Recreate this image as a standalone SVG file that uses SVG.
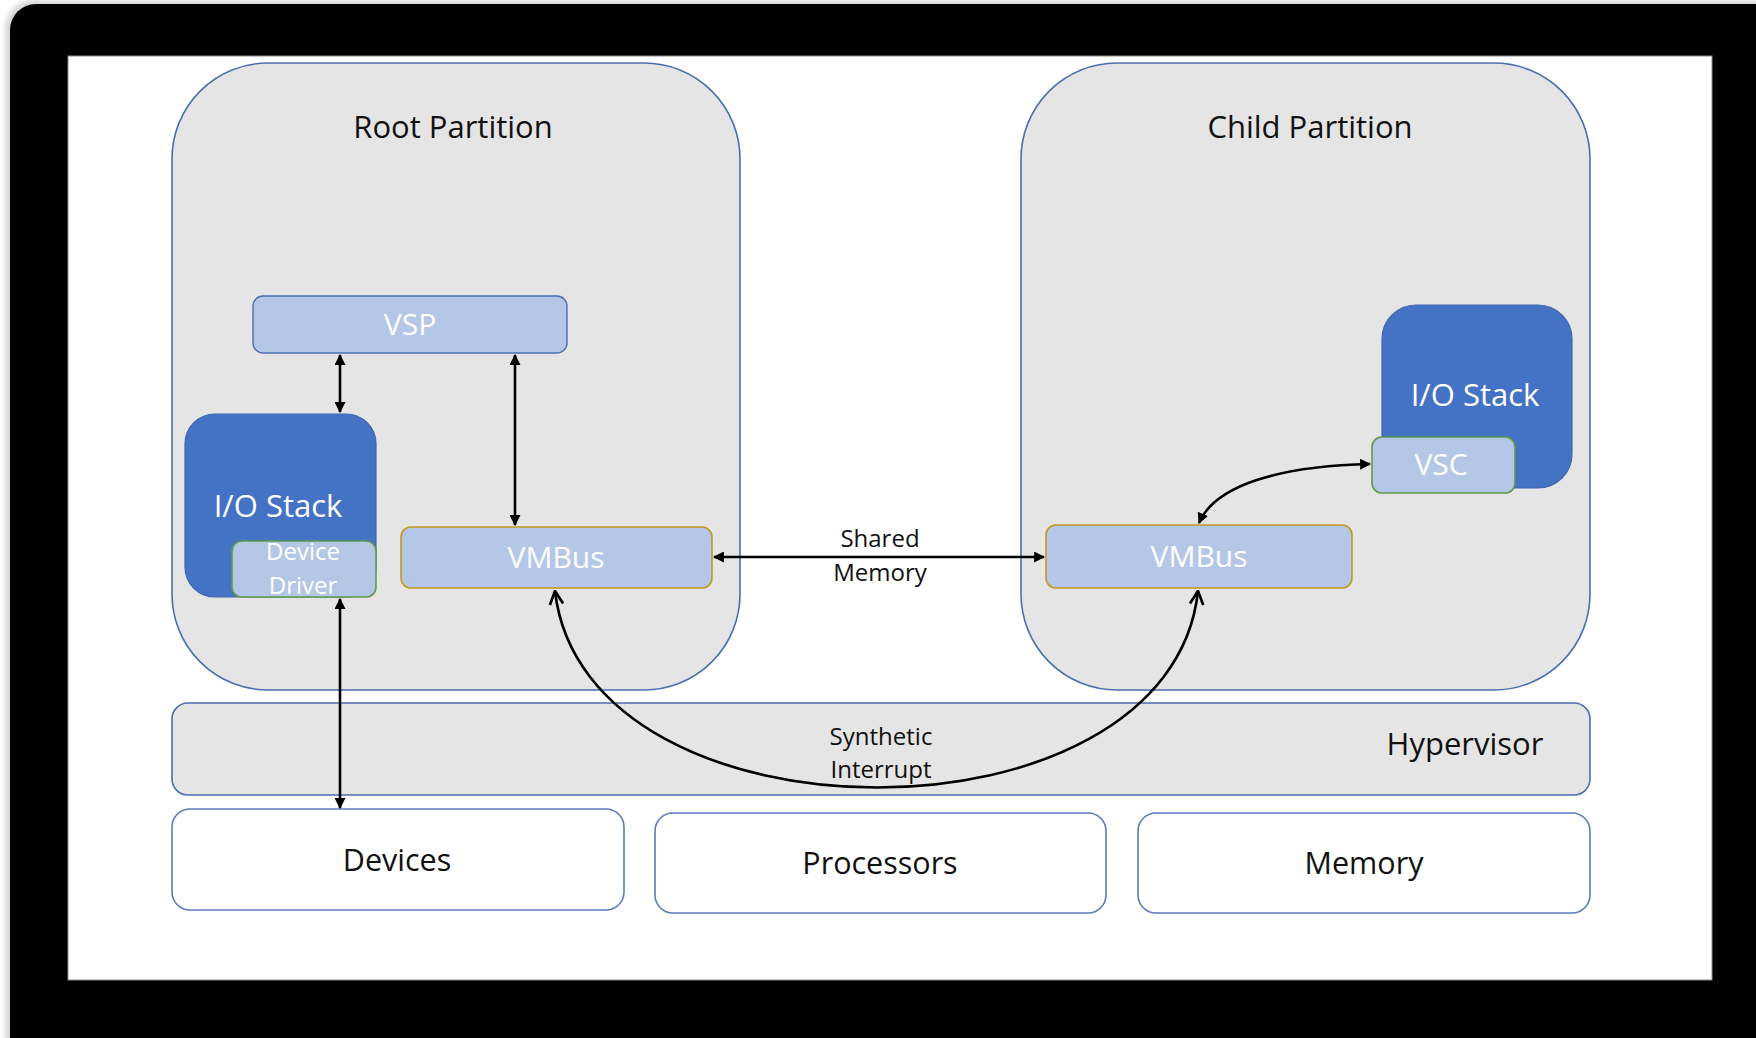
<svg xmlns="http://www.w3.org/2000/svg" width="1756" height="1038" viewBox="0 0 1756 1038">
  <style>
    .part { fill: #e5e5e5; stroke: #4a6fb0; stroke-width: 1.6; }
    .hw { fill: #ffffff; stroke: #5b7cb8; stroke-width: 1.6; }
    .light { fill: #b4c7e7; }
    .blue { fill: #4472c4; stroke: #3f68b0; stroke-width: 1.2; }
    .edge-blue { stroke: #4a6fb0; stroke-width: 1.4; }
    .edge-gold { stroke: #c39a1e; stroke-width: 1.6; }
    .edge-green { stroke: #5f9a4a; stroke-width: 1.6; }
    .t { font-family: "Open Sans", "Liberation Sans", sans-serif; text-anchor: middle; }
    .dark { fill: #111111; }
    .white { fill: #ffffff; }
    .conn { fill: none; stroke: #000000; stroke-width: 2.6; }
  </style>
  <defs>
    <marker id="solid" viewBox="0 0 10 10" refX="9" refY="5" markerWidth="11" markerHeight="11" markerUnits="userSpaceOnUse" orient="auto-start-reverse">
      <path d="M0,0 L10,5 L0,10 Z" fill="#000"/>
    </marker>
    <marker id="open" viewBox="0 0 12 12" refX="11" refY="6" markerWidth="16" markerHeight="16" markerUnits="userSpaceOnUse" orient="auto-start-reverse">
      <path d="M1,1 L11,6 L1,11" fill="none" stroke="#000" stroke-width="2"/>
    </marker>
    <filter id="soft" x="-5%" y="-5%" width="110%" height="110%">
      <feGaussianBlur stdDeviation="2.5"/>
    </filter>
  </defs>

  <!-- frame -->
  <rect x="0" y="0" width="1756" height="1038" fill="#ffffff"/>
  <rect x="5" y="0" width="1800" height="1100" rx="28" fill="#d8d8d8" filter="url(#soft)"/>
  <rect x="10" y="4" width="1800" height="1100" rx="26" fill="#000000"/>
  <rect x="68" y="56" width="1644" height="924" fill="#ffffff" stroke="#8a8a8a" stroke-width="1"/>

  <!-- partitions -->
  <g id="root-partition">
    <rect class="part" x="172" y="63" width="568" height="627" rx="96"/>
    <text class="t dark" x="453" y="138" font-size="31">Root Partition</text>
  </g>
  <g id="child-partition">
    <rect class="part" x="1021" y="63" width="569" height="627" rx="96"/>
    <text class="t dark" x="1310" y="138" font-size="31">Child Partition</text>
  </g>

  <g id="hypervisor">
    <rect class="part" x="172" y="703" width="1418" height="92" rx="16"/>
    <text class="t dark" x="1465" y="755" font-size="31">Hypervisor</text>
  </g>

  <!-- hardware -->
  <g id="devices">
    <rect class="hw" x="172" y="809" width="452" height="101" rx="18"/>
    <text class="t dark" x="397" y="871" font-size="30.5">Devices</text>
  </g>
  <g id="processors">
    <rect class="hw" x="655" y="813" width="451" height="100" rx="18"/>
    <text class="t dark" x="880" y="874" font-size="30.5">Processors</text>
  </g>
  <g id="memory">
    <rect class="hw" x="1138" y="813" width="452" height="100" rx="18"/>
    <text class="t dark" x="1364" y="874" font-size="30.5">Memory</text>
  </g>

  <!-- root partition contents -->
  <g id="vsp">
    <rect class="light edge-blue" x="253" y="296" width="314" height="57" rx="10"/>
    <text class="t white" x="410" y="335" font-size="30">VSP</text>
  </g>
  <g id="root-io-stack">
    <rect class="blue" x="185" y="414" width="191" height="183" rx="30"/>
    <text class="t white" x="278" y="517" font-size="31">I/O Stack</text>
  </g>
  <g id="device-driver">
    <rect class="light edge-green" x="232" y="541" width="144" height="56" rx="10"/>
    <text class="t white" x="303" y="560" font-size="24">Device</text>
    <text class="t white" x="303" y="594" font-size="24">Driver</text>
  </g>
  <g id="root-vmbus">
    <rect class="light edge-gold" x="401" y="527" width="311" height="61" rx="10"/>
    <text class="t white" x="556" y="568" font-size="30">VMBus</text>
  </g>

  <!-- child partition contents -->
  <g id="child-io-stack">
    <rect class="blue" x="1382" y="305" width="190" height="183" rx="34"/>
    <text class="t white" x="1475" y="406" font-size="31">I/O Stack</text>
  </g>
  <g id="vsc">
    <rect class="light edge-green" x="1372" y="437" width="143" height="56" rx="10"/>
    <text class="t white" x="1441" y="475" font-size="30">VSC</text>
  </g>
  <g id="child-vmbus">
    <rect class="light edge-gold" x="1046" y="525" width="306" height="63" rx="10"/>
    <text class="t white" x="1199" y="567" font-size="30">VMBus</text>
  </g>

  <!-- connectors -->
  <g id="connectors">
    <line class="conn" x1="340" y1="355" x2="340" y2="412" marker-start="url(#solid)" marker-end="url(#solid)"/>
    <line class="conn" x1="515" y1="355" x2="515" y2="525" marker-start="url(#solid)" marker-end="url(#solid)"/>
    <line class="conn" x1="340" y1="599" x2="340" y2="808" marker-start="url(#solid)" marker-end="url(#solid)"/>
    <line class="conn" x1="714" y1="557" x2="1044" y2="557" marker-start="url(#solid)" marker-end="url(#solid)"/>
    <path class="conn" d="M1199,523 C1215,485 1280,466 1370,464" marker-start="url(#solid)" marker-end="url(#solid)"/>
    <path class="conn" d="M555,591 C585,853 1170,853 1198,591" marker-start="url(#open)" marker-end="url(#open)"/>
  </g>

  <!-- connector labels -->
  <g id="labels">
    <text class="t dark" x="880" y="547" font-size="24">Shared</text>
    <text class="t dark" x="880" y="581" font-size="24">Memory</text>
    <text class="t dark" x="881" y="745" font-size="24">Synthetic</text>
    <text class="t dark" x="881" y="778" font-size="24">Interrupt</text>
  </g>
</svg>
